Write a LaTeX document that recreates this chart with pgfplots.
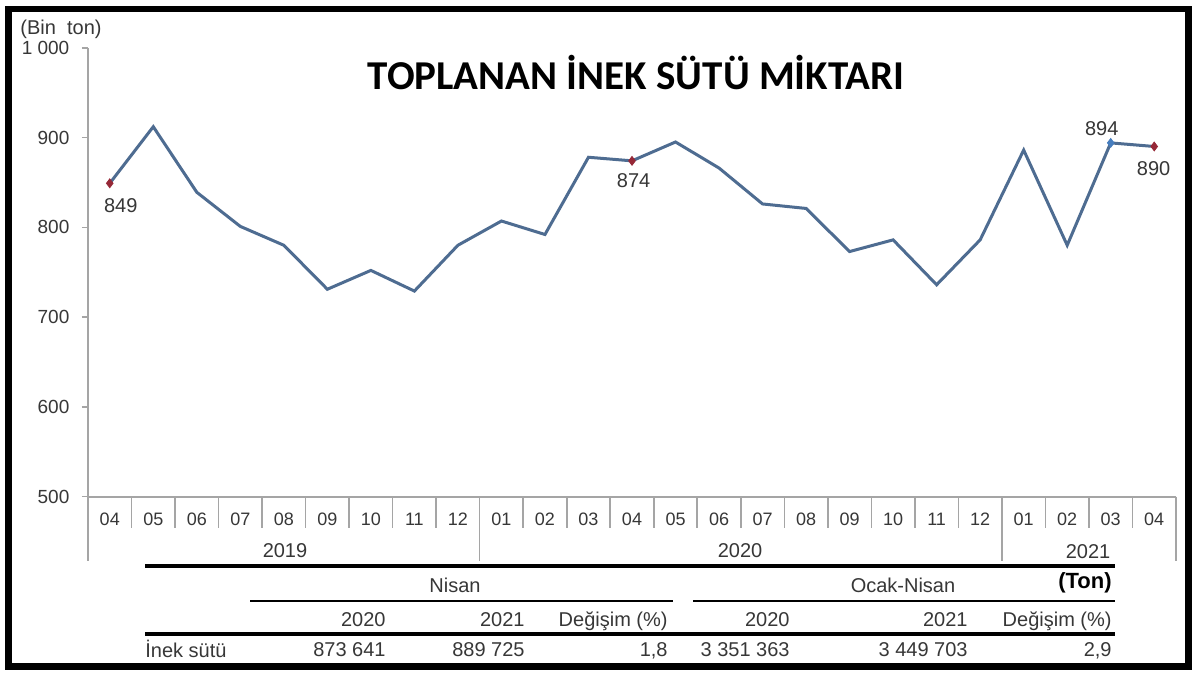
\documentclass[border=0pt]{standalone}
\usepackage{pgfplots}
\pgfplotsset{compat=1.18}
\usepackage{fontspec}
\setmainfont{Liberation Sans}
\newfontfamily\titlefont{Carlito}
\definecolor{linecol}{RGB}{78,108,145}
\definecolor{mkred}{RGB}{150,40,55}
\definecolor{mkblue}{RGB}{70,125,190}
\definecolor{axisgray}{RGB}{165,165,165}
\definecolor{txtgray}{RGB}{55,55,55}
\begin{document}
\begin{tikzpicture}
\path[use as bounding box] (0pt,0pt) rectangle (600pt,340pt);
\fill[white] (0pt,0pt) rectangle (600pt,340pt);
\begin{axis}[
  at={(44pt,91.65pt)}, anchor=south west, scale only axis,
  width=544pt, height=224.5pt,
  xmin=-0.5, xmax=24.5, ymin=500, ymax=1000,
  axis lines*=left,
  axis line style={draw=axisgray, line width=0.9pt},
  clip=false,
  ytick={500,600,700,800,900,1000},
  yticklabels={500,600,700,800,900,1 000},
  tick align=outside, major tick length=3pt,
  ytick style={draw=axisgray, line width=0.8pt},
  yticklabel shift=2.8pt,
  y tick label style={font=\fontsize{9.5}{11}\selectfont, text=txtgray},
  xtick={0,...,24},
  xticklabels={04,05,06,07,08,09,10,11,12,01,02,03,04,05,06,07,08,09,10,11,12,01,02,03,04},
  xtick style={draw=none},
  x tick label style={font=\fontsize{9}{11}\selectfont, text=txtgray},
  xticklabel shift=1.5pt,
]
\pgfplotsinvokeforeach{0.5,1.5,2.5,3.5,4.5,5.5,6.5,7.5,9.5,10.5,11.5,12.5,13.5,14.5,15.5,16.5,17.5,18.5,19.5,21.5,22.5,23.5}{
  \draw[axisgray, line width=0.8pt] (axis cs:#1,500) -- ++(0pt,-15.6pt);
}
\pgfplotsinvokeforeach{-0.5,8.5,20.5,24.5}{
  \draw[axisgray, line width=0.8pt] (axis cs:#1,500) -- ++(0pt,-32pt);
}
\addplot[linecol, line width=1.5pt, mark=none] coordinates {
(0,849)(1,912)(2,839)(3,801)(4,780)(5,731)(6,752)(7,729)(8,780)
(9,807)(10,792)(11,878)(12,874)(13,895)(14,866)(15,826)(16,821)(17,773)(18,786)(19,736)(20,786)
(21,886)(22,780)(23,894)(24,890)};
\addplot[only marks, mark=diamond*, mark size=2.2pt, color=mkred] coordinates {(0,849)(12,874)(24,890)};
\addplot[only marks, mark=diamond*, mark size=2.2pt, color=mkblue] coordinates {(23,894)};
\node[font=\fontsize{10}{12}\selectfont, text=txtgray] at (axis cs:0,849) [xshift=5.5pt, yshift=-11pt] {849};
\node[font=\fontsize{10}{12}\selectfont, text=txtgray] at (axis cs:12,874) [xshift=0.8pt, yshift=-9.9pt] {874};
\node[font=\fontsize{10}{12}\selectfont, text=txtgray] at (axis cs:23,894) [xshift=-4.5pt, yshift=7pt] {894};
\node[font=\fontsize{10}{12}\selectfont, text=txtgray] at (axis cs:24,890) [xshift=-0.3pt, yshift=-10.9pt] {890};
\end{axis}
\begin{scope}[x=0.5pt,y=-0.5pt,shift={(0pt,340pt)}]
  \draw[line width=3.25pt] (8.5,9) rectangle (1188.5,666.5);
  \node[anchor=base, font=\titlefont\bfseries\fontsize{20.5}{24}\selectfont] at (636,89.3) {TOPLANAN İNEK SÜTÜ MİKTARI};
  \node[anchor=base, font=\fontsize{10}{12}\selectfont, text=txtgray] at (61,35) {(Bin\ \ ton)};
  \begin{scope}[every node/.style={font=\fontsize{10}{12}\selectfont, text=txtgray, inner sep=0pt}]
    \node[anchor=base] at (285,558) {2019};
    \node[anchor=base] at (740,558) {2020};
    \node[anchor=base] at (1088,559) {2021};
    \node[anchor=base] at (455,593) {Nisan};
    \node[anchor=base] at (903,593) {Ocak-Nisan};
    \node[anchor=base east, font=\bfseries\fontsize{11}{13}\selectfont, text=black] at (1112,589) {(Ton)};
    \node[anchor=base east] at (386,627) {2020};
    \node[anchor=base east] at (525,627) {2021};
    \node[anchor=base east] at (668,627) {Değişim (\%)};
    \node[anchor=base east] at (790,627) {2020};
    \node[anchor=base east] at (968,627) {2021};
    \node[anchor=base east] at (1112,627) {Değişim (\%)};
    \node[anchor=base west] at (145,658) {İnek sütü};
    \node[anchor=base east] at (386,657) {873 641};
    \node[anchor=base east] at (525,657) {889 725};
    \node[anchor=base east] at (668,657) {1,8};
    \node[anchor=base east] at (790,657) {3 351 363};
    \node[anchor=base east] at (968,657) {3 449 703};
    \node[anchor=base east] at (1112,657) {2,9};
  \end{scope}
  \draw[line width=2pt] (145,566) -- (1115,566);
  \draw[line width=1.3pt] (250,601) -- (673,601);
  \draw[line width=1.3pt] (693,601) -- (1115,601);
  \draw[line width=1.6pt] (145,634) -- (1115,634);
\end{scope}
\end{tikzpicture}
\end{document}
